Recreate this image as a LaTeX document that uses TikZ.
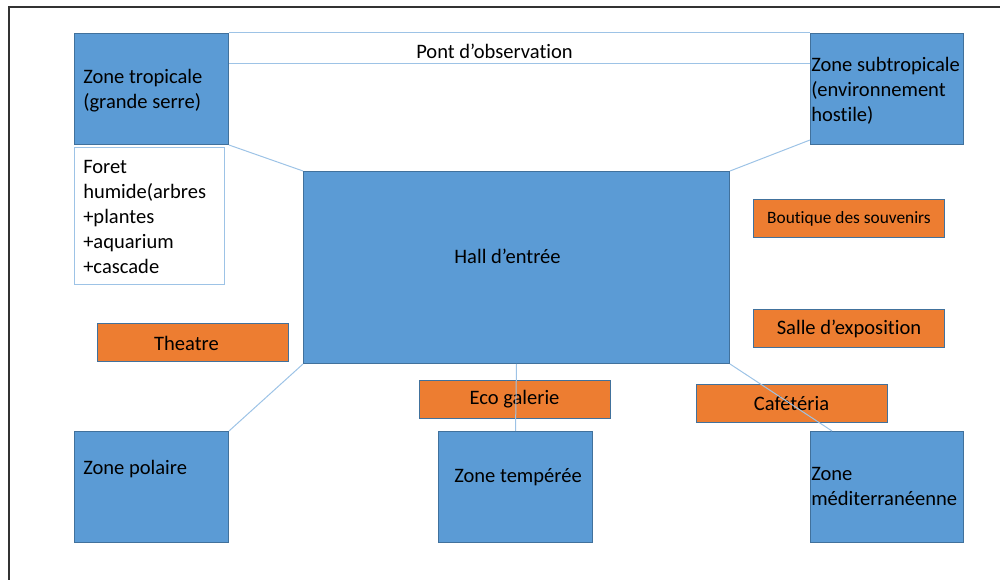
\documentclass[tikz,border=0pt]{standalone}
\usepackage{fontspec}
\setmainfont[Ligatures=NoCommon]{Carlito}
\usepackage{xcolor}
\usetikzlibrary{calc}
\usetikzlibrary{positioning}

\definecolor{zoneblue}{HTML}{5B9BD5}
\definecolor{zoneline}{HTML}{41719C}
\definecolor{standorange}{HTML}{ED7D31}
\definecolor{linkblue}{HTML}{9DC3E6}

\newcommand{\pxl}{0.75pt}
\newcommand{\boxfont}{\fontsize{15.4}{18.75}\selectfont}
\newcommand{\smallboxfont}{\fontsize{13}{15.6}\selectfont}

\tikzset{
  zone/.style={draw=zoneline, fill=zoneblue, line width=0.75pt, anchor=north west, inner sep=0pt},
  stand/.style={draw=zoneline, fill=standorange, line width=0.75pt, inner sep=0pt,
    minimum width=191*\pxl, minimum height=38*\pxl, font=\boxfont},
  link/.style={draw=linkblue, line width=0.75pt},
  txt/.style={inner sep=0pt, align=left, font=\boxfont}
}

\begin{document}
\begin{tikzpicture}[x=0.75pt,y=-0.75pt]
            \useasboundingbox (0,0) rectangle (1000,580);
            \draw[line width=1.5pt, black!80] (9,580) -- (9,7) -- (1000,7);

            \node[zone, minimum width=154*\pxl, minimum height=111*\pxl] (trop) at (74,33) {};
            \node[txt, anchor=west] (tropT) at (83,91) {Zone tropicale\\(grande serre)};
            \node[zone, fill=white, draw=linkblue, minimum width=150*\pxl, minimum height=137*\pxl] (foret) at (74,147) {};
            \node[txt, anchor=west] (foretT) at (83,217) {Foret\\humide(arbres\\+plantes\\+aquarium\\+cascade};
            \node[zone, minimum width=153*\pxl, minimum height=111*\pxl] (subtrop) at (810,33) {};
            \node[txt, anchor=west] (subtropT) at (811,91) {Zone subtropicale\\(environnement\\hostile)};
            \node[zone, minimum width=426*\pxl, minimum height=192*\pxl] (hall) at (303,171) {};
            \node[txt] (hallT) at (507.5,256) {Hall d’entrée};
            \node[zone, minimum width=154*\pxl, minimum height=111*\pxl] (polaire) at (74,431) {};
            \node[txt, anchor=west] (polaireT) at (83,469) {Zone polaire};
            \node[zone, minimum width=154*\pxl, minimum height=111*\pxl] (temp) at (438,431) {};
            \node[txt] (tempT) at (518,477) {Zone tempérée};
            \node[zone, minimum width=153*\pxl, minimum height=111*\pxl] (medit) at (810,431) {};
            \node[txt, anchor=west] (meditT) at (811,486) {Zone\\méditerranéenne};

            \node[stand, font=\smallboxfont] (boutique) at (849,219) {Boutique des souvenirs};
            \node[stand] (salle) at (849,329) {Salle d’exposition};
            \node[stand] (theatre) at (192.5,343) {\hspace*{-9pt}Theatre};
            \node[stand] (eco) at (514.5,399.5) {Eco galerie};
            \node[stand] (cafe) at (791.5,404) {Cafétéria};

            \draw[link] (trop.north east) -- (subtrop.north west);
            \draw[link] ($(trop.north east)+(0,31)$) -- ($(subtrop.north west)+(0,31)$);
            \node[txt] (pont) at (494.5,51) {Pont d’observation};
            \draw[link] (trop.south east) -- (hall.north west);
            \draw[link] ($(subtrop.south west)+(0,-5)$) -- (hall.north east);
            \draw[link] (hall.south west) -- (polaire.north east);
            \draw[link] (hall.south) -- (temp.north);
            \draw[link] (hall.south east) -- ($(medit.north west)+(22,0)$);
        \end{tikzpicture}
\end{document}
